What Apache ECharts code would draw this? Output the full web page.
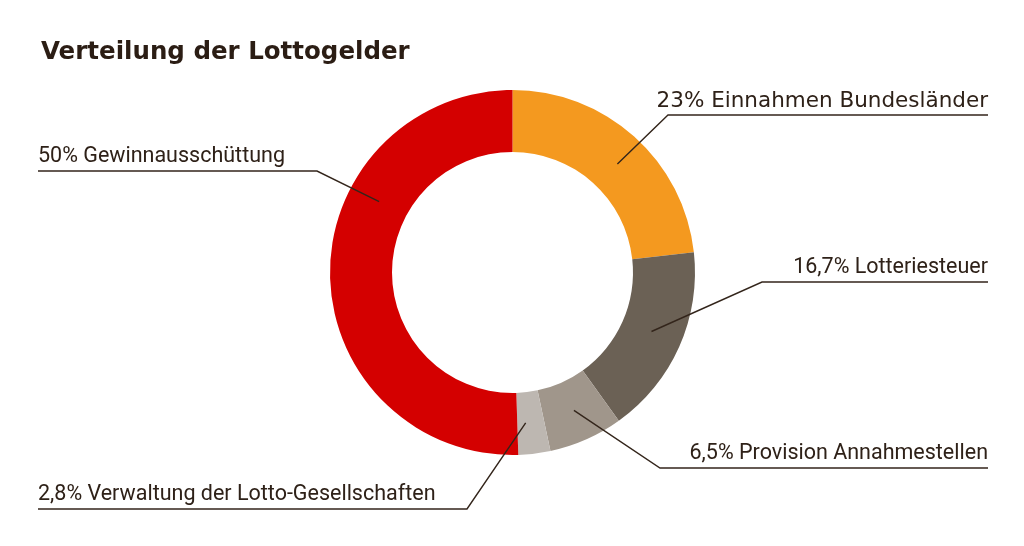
<!DOCTYPE html>
<html>
<head>
<meta charset="utf-8">
<script src="https://cdn.jsdelivr.net/npm/echarts@6/dist/echarts.min.js"></script>
<style>
  html, body { margin: 0; background: #fff; }
  #chart { width: 1024px; height: 546px; }
</style>
</head>
<body>
<div id="chart"></div>
<script>
// Daten
var categories = ['Einnahmen Bundesländer', 'Lotteriesteuer', 'Provision Annahmestellen', 'Verwaltung der Lotto-Gesellschaften', 'Gewinnausschüttung'];
var shares = [23, 16.7, 6.5, 2.8, 50];
var colors = ['#f4991f', '#6b6155', '#a0968b', '#bdb7b1', '#d40000'];

// Beschriftungslinien: Startwinkel im Ring, Knick-x, Unterstrich-y, Seite
var lineStartAngle = [46, -23, -66, -85, 152];
var elbowX = [668, 762, 660, 467, 317];
var underlineY = [115, 282, 468, 509, 171];
var rightSide = [true, true, true, false, false];
var labelFonts = ['DejaVu Sans', 'Roboto', 'Roboto', 'Roboto', 'Roboto'];

var cx = 512.5, cy = 272.5, rIn = 120.5, rOut = 182.5, rMid = 151;
var edgeLeft = 38, edgeRight = 988;

var chart = echarts.init(document.getElementById('chart'));

function fmt(v) {
  return String(v).replace('.', ',') + '%';
}

var ringData = categories.map(function (name, i) {
  return { name: name, value: shares[i], itemStyle: { color: colors[i] } };
});

// gleiche Werte, unsichtbar, nur fuer Texte und Linien (liegt ueber dem Ring)
var labelData = categories.map(function (name, i) {
  return {
    name: name,
    value: shares[i],
    label: { fontFamily: labelFonts[i] }
  };
});

var option = {
  animation: false,
  title: {
    text: 'Verteilung der Lottogelder',
    left: 36,
    top: 35,
    textStyle: {
      fontFamily: 'DejaVu Sans',
      fontWeight: 'bold',
      fontSize: 24.5,
      color: '#2b1d14'
    }
  },
  series: [{
    type: 'pie',
    z: 2,
    center: [cx, cy],
    radius: [rIn, rOut],
    startAngle: 90,
    clockwise: true,
    silent: true,
    emphasis: { disabled: true },
    label: { show: false },
    labelLine: { show: false },
    data: ringData
  }, {
    type: 'pie',
    z: 5,
    center: [cx, cy],
    radius: [rIn, rOut],
    startAngle: 90,
    clockwise: true,
    silent: true,
    emphasis: { disabled: true },
    itemStyle: { color: 'rgba(0,0,0,0)' },
    data: labelData,
    label: {
      show: true,
      position: 'outside',
      formatter: function (p) { return fmt(p.value) + ' ' + p.name; },
      fontFamily: 'Roboto',
      fontSize: 21.5,
      color: '#2e2118'
    },
    labelLine: {
      show: true,
      lineStyle: { color: '#33251b', width: 1.4 }
    },
    labelLayout: function (p) {
      var i = p.dataIndex;
      var a = lineStartAngle[i] * Math.PI / 180;
      var sx = cx + rMid * Math.cos(a);
      var sy = cy - rMid * Math.sin(a);
      var ly = underlineY[i];
      var ex = rightSide[i] ? edgeRight : edgeLeft;
      return {
        x: ex,
        y: ly - 3,
        align: rightSide[i] ? 'right' : 'left',
        verticalAlign: 'bottom',
        labelLinePoints: [[sx, sy], [elbowX[i], ly], [ex, ly]]
      };
    }
  }]
};

chart.setOption(option);
</script>
</body>
</html>
